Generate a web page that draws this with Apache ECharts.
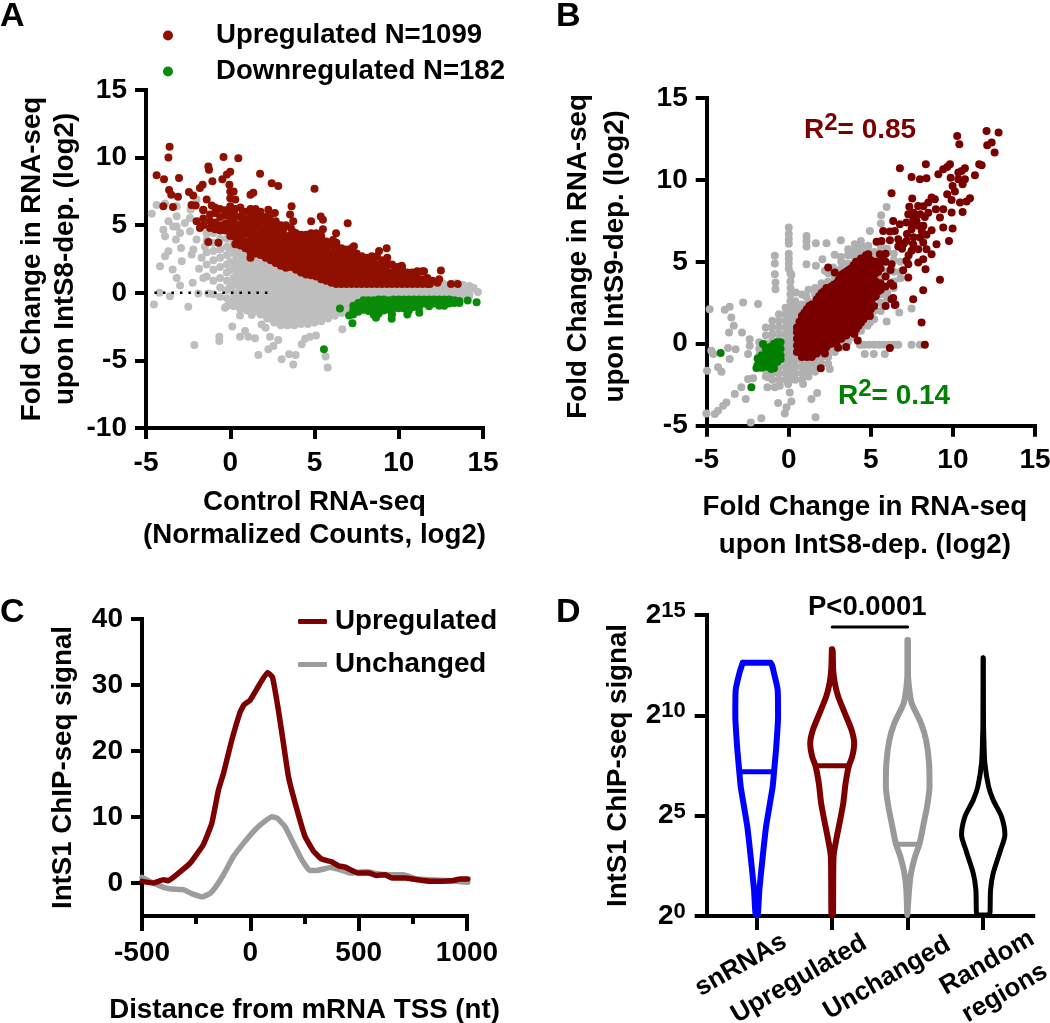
<!DOCTYPE html>
<html><head><meta charset="utf-8">
<style>html,body{margin:0;padding:0;background:#fff}#c{width:1050px;height:1023px}</style>
<script src="https://cdn.jsdelivr.net/npm/echarts@6/dist/echarts.min.js"></script>
</head><body><div id="c"></div>
<script>
// ---------- Panel A: [x, y] outliers, plus dense columns [x, [ys]]
const aUpOutliers=[[-3.6,10.8],[-3.67,10],[-4.37,8.7],[-3.93,8.4],[-3.04,8.5],[-3.63,7.6],[-3.5,7.25],[-3.1,7.1],[-3.97,6.4],[-3.4,6.35],[-2.45,7.45],[-2.2,7.2],[-1.8,7.75],[-1.64,8],[-2.3,6.5],[-2.05,6.45],[-1.3,9.35],[-1.26,9.1],[-1.06,8.25],[-1.4,6.9],[-1.1,6.45],[-1.6,6.15],[-2,5.3],[-1.8,4.8],[-1.3,3.76],[-0.7,3.7],[-0.4,10.05],[0.48,9.95],[0,8.95],[-0.2,8.75],[-0.47,8.4],[-0.05,8],[0,7.5],[0.2,7.5],[1.77,8.8],[2.46,8.1],[2.85,7.9],[5,7.7],[1.37,7.4],[1.2,7.25],[3.64,6.4],[3.55,5.8],[3.74,5.3],[2.26,6.15],[2.65,5.9],[5.37,5.65],[5.5,5.4],[4.8,5.3],[5.5,4.7],[6.97,5.15],[6.28,4.4],[6.1,3.9],[7.34,3.45],[8.83,3.1],[9.28,3.3],[9.32,2.6],[10.17,2],[11.5,1.6],[12.5,1.65],[12.3,0.75],[12.4,1.0],[13.1,0.66],[13.5,0.66],[11.85,0.66],[12.0,0.9]];
const aUpCols=[[-1.6,[5.0,5.5,6.1]],[-1.2,[4.8,5.3,5.8]],[-0.9,[4.7,5.2,5.9,6.3]],[-0.6,[4.6,5.0,5.6,6.2]],[-0.3,[4.6,5.1,5.7,6.1]],[0,[4.2,4.8,5.3,5.9,6.4,7]],[0.3,[3.6,4.1,4.7,5.1,5.7,6.2,6.9]],[0.6,[3.5,4.0,4.5,5.0,5.6,6.3]],[0.9,[3.3,3.8,4.4,4.9,5.4,6]],[1.2,[2.6,3.0,3.6,4.1,4.6,5.1,5.7,6.2]],[1.5,[2.9,3.4,3.9,4.3,4.9,5.4,5.9,6.2]],[1.8,[2.8,3.2,3.7,4.2,4.7,5.2,5.6,6]],[2.1,[2.6,3.0,3.5,4,4.5,5,5.6]],[2.4,[2.4,2.9,3.3,3.8,4.3,4.8,5.3,5.8]],[2.7,[2.2,2.6,3.1,3.6,4.1,4.6,5.3]],[3,[2,2.5,2.9,3.4,3.9,4.4,5]],[3.3,[1.85,2.3,2.7,3.2,3.7,4.2,5]],[3.6,[1.9,2.4,2.9,3.3,3.8,4.3,4.8]],[3.9,[1.7,2.1,2.6,3.1,3.6,4,4.4]],[4.2,[1.5,1.9,2.4,2.9,3.3,3.8,4.3]],[4.5,[1.35,1.8,2.2,2.7,3.2,3.7,4.3]],[4.8,[1.3,1.7,2.1,2.5,3,3.5,4,4.4]],[5.1,[1.2,1.6,2,2.5,2.9,3.4,3.9,4.4]],[5.4,[1,1.4,1.8,2.3,2.8,3.2,3.7,4.2]],[5.7,[0.9,1.3,1.8,2.2,2.7,3.2,3.8]],[6,[0.75,1.1,1.5,2,2.5,3,3.6]],[6.3,[0.66,1,1.4,1.9,2.4,2.8,3.2,3.7]],[6.6,[0.66,1.1,1.5,2,2.4,2.9,3.3]],[6.9,[0.66,1,1.4,1.8,2.3,2.8,3.2]],[7.2,[0.66,1,1.5,1.9,2.4,2.8,3.3]],[7.5,[0.66,1.1,1.5,2,2.5,2.9]],[7.8,[0.66,1,1.4,1.8,2.3,2.7]],[8.1,[0.66,1.1,1.5,2,2.6]],[8.4,[0.66,1,1.4,1.9,2.3,2.7]],[8.7,[0.66,1.1,1.5,2,2.7]],[9,[0.66,1,1.4,1.9,2.4]],[9.3,[0.66,1.1,1.6,2.1]],[9.6,[0.66,1,1.5,2.1]],[9.9,[0.66,1.1,1.5,1.9]],[10.2,[0.66,1,1.4,1.9]],[10.5,[0.66,1.1,1.5]],[10.8,[0.66,1,1.5]],[11.1,[0.66,1.1,1.6]],[11.4,[0.66,1,1.6]],[11.7,[0.66,1.1]],
 [0.15,[4.4,5,5.5,6.1]],[0.75,[3.8,4.3,4.8,5.3,5.9]],[1.35,[3.2,3.8,4.4,4.7,5.3,5.8]],[1.95,[3,3.5,3.9,4.5,4.9,5.4]],[2.55,[2.5,3,3.5,4,4.5,5]],[3.15,[2.2,2.7,3.2,3.7,4.2,4.7]],[3.75,[2.1,2.6,3.1,3.5,4,4.5]],[4.35,[1.7,2.1,2.6,3.1,3.5,4]],[4.95,[1.4,1.8,2.3,2.7,3.2,3.7,4.1]],[5.55,[1.2,1.6,2,2.5,3,3.5]],[6.15,[0.9,1.3,1.7,2.2,2.7,3.1]],[6.75,[0.85,1.3,1.7,2.2,2.6,3]],[7.35,[0.85,1.3,1.7,2.2,2.6]],[7.95,[0.85,1.25,1.6,2.1,2.5]],[8.55,[0.85,1.25,1.7,2.2]],[9.15,[0.85,1.25,1.7]],[9.75,[0.85,1.3,1.7]],[10.35,[0.85,1.25]],[10.95,[0.85,1.25]]];
const aDownOutliers=[[5.56,-4.18],[6.51,-1.16],[7.25,-2.26],[7.05,-1.67],[14.62,-0.69],[14.09,-0.57],[11.22,-1.48],[10.51,-1.6],[9.58,-1.92],[8.65,-1.85],[8.5,-1.6],[9.6,-1.6]];
const aDownCols=[[7.3,[-0.95,-1.3,-1.6]],[7.6,[-0.75,-1.1,-1.4]],[7.9,[-0.55,-0.9,-1.25]],[8.2,[-0.55,-0.95,-1.35]],[8.5,[-0.55,-0.9,-1.3]],[8.8,[-0.5,-0.85,-1.2,-1.55]],[9.1,[-0.5,-0.9,-1.3]],[9.4,[-0.55,-0.9,-1.25]],[9.7,[-0.5,-0.85,-1.15]],[10,[-0.5,-0.85,-1.15]],[10.3,[-0.5,-0.8,-1.15]],[10.6,[-0.5,-0.85,-1.3]],[10.9,[-0.5,-0.8,-1.05]],[11.2,[-0.5,-0.8,-1.1]],[11.5,[-0.5,-0.8]],[11.8,[-0.5,-0.85,-1]],[12.1,[-0.5,-0.8]],[12.4,[-0.5,-0.75,-0.95]],[12.7,[-0.5,-0.8,-0.95]],[13,[-0.5,-0.8]],[13.3,[-0.55,-0.75]],[13.6,[-0.6,-0.75]]];
const aGrayOutliers=[[-4.66,5.85],[-4.37,6.5],[-3.87,6.6],[-3.67,5.3],[-3.97,4.67],[-3.87,4.18],[-3.38,4.9],[-3.18,6.4],[-3.18,5.66],[-3.18,4.9],[-3.22,3.94],[-2.98,4.43],[-2.92,3.32],[-2.39,5.53],[-2.39,4.55],[-2.69,5.17],[-2,3.94],[-2.19,3.2],[-2.29,2.83],[-2.88,2.34],[-3.87,2.7],[-3.67,3.07],[-4.17,1.97],[-3.42,1.72],[-3.18,1.1],[-2.98,0.54],[-2.23,0.74],[-1.85,1.77],[-2.35,6.15],[-2,6.9],[-4.53,-0.86],[-3.58,-0.25],[-2.49,-1.03],[-2.13,-3.86],[-0.65,-3.25],[-0.65,-3.57],[0.12,-2.5],[0.58,-3.25],[0.88,-2.83],[1.07,-3.25],[1.47,-3.37],[1.67,-4.6],[2.26,-4.18],[2.56,-3.94],[2.36,-3.25],[2.85,-3.5],[3.05,-4.92],[3.49,-4.55],[3.88,-4.6],[3.74,-5.3],[4.24,-3.81],[4.44,-3.4],[4.73,-3.25],[5.09,-3.15],[5.66,-4.72],[5.78,-5.53],[6.65,-2.7],[1.86,-2.34],[2.1,-2.58],[-0.31,-1.1],[0.58,-1.67],[1.27,-1.65],[-1.9,-0.05],[-1.3,-0.05],[-1.7,2.6],[-1.5,3.4],[-1.6,1.1],[-4.2,0.0],[14.7,0.05],[14.45,0.35]];
const aGrayCols=[[-1.4,[1.2,2.1,3.0,3.9,4.4]],[-1,[-0.1,0.9,1.7,2.4,3.1,3.7,4.4]],[-0.6,[-0.3,0.4,1.1,1.9,2.6,3.2,4]],[-0.2,[-1,-0.4,0.2,0.9,1.5,2.1,2.8,3.4,4]],[0.2,[-1,-0.5,0,0.6,1.1,1.7,2.3,2.9,3.4,3.8]],[0.6,[-1.2,-0.7,-0.2,0.3,0.8,1.4,1.9,2.4,3,3.6]],[1,[-1.3,-0.8,-0.3,0.2,0.7,1.2,1.8,2.3,2.8,3.2]],[1.4,[-1.4,-0.9,-0.4,0.1,0.6,1.1,1.6,2.1,2.5,2.9]],[1.8,[-1.6,-1.1,-0.6,-0.1,0.4,0.9,1.4,1.9,2.4,3]],[2.2,[-1.9,-1.4,-0.9,-0.4,0.1,0.6,1.1,1.6,2.1,2.6]],[2.6,[-2.2,-1.7,-1.2,-0.7,-0.2,0.3,0.8,1.3,1.8,2.4]],[3,[-2.4,-1.9,-1.4,-0.9,-0.4,0.1,0.6,1.1,1.6,2.2]],[3.4,[-2.4,-1.8,-1.3,-0.8,-0.3,0.2,0.7,1.2,1.6,2]],[3.8,[-2.4,-1.9,-1.4,-0.9,-0.4,0.1,0.6,1.1,1.5,1.9]],[4.2,[-2.3,-1.8,-1.3,-0.8,-0.3,0.2,0.7,1.2,1.7]],[4.6,[-2.3,-1.9,-1.4,-0.9,-0.4,0.1,0.6,1,1.4]],[5,[-2.2,-1.7,-1.2,-0.7,-0.2,0.3,0.8,1.2]],[5.4,[-2.1,-1.6,-1.1,-0.6,-0.1,0.4,0.8,1.1]],[5.8,[-1.9,-1.4,-0.9,-0.4,0.1,0.5,0.8]],[6.2,[-1.7,-1.2,-0.7,-0.2,0.3,0.8]],[6.6,[-1.5,-1,-0.5,0,0.4,0.8]],[7,[-1.2,-0.7,-0.2,0.3,0.7]],[7.4,[-0.6,-0.2,0.2,0.7]],[7.8,[-0.4,0,0.4,0.7]],[8.2,[-0.2,0.2,0.6]],[8.6,[-0.4,0,0.4,0.7]],[9,[-0.2,0.2,0.6]],[9.4,[-0.4,0,0.4,0.7]],[9.8,[-0.2,0.2,0.6]],[10.2,[-0.4,0,0.4,0.7]],[10.6,[-0.2,0.2,0.6]],[11,[-0.4,0,0.4,0.7]],[11.4,[-0.2,0.2,0.6]],[11.8,[-0.4,0,0.4,0.7]],[12.2,[-0.2,0.2,0.6]],[12.6,[-0.4,0,0.4,0.7]],[13,[-0.2,0.2,0.6]],[13.4,[-0.3,0,0.4,0.7]],[13.8,[-0.2,0.2,0.6]],[14.2,[-0.2,0.1,0.5]],
 [0,[-0.7,0.5,1.7,2.3,3]],[0.4,[-0.9,-0.4,0.6,1.1,1.6,2.1,2.7,3.2]],[0.8,[-1,-0.5,0,0.5,1,1.5,2,2.5,3]],[1.2,[-1.1,-0.6,-0.1,0.4,0.9,1.4,1.9,2.4,2.8]],[1.6,[-1.3,-0.8,-0.3,0.2,0.7,1.2,1.7,2.2,2.7]],[2,[-1.6,-1.1,-0.6,-0.1,0.4,0.9,1.4,1.8,2.3]],[2.4,[-1.9,-1.4,-0.9,-0.4,0.1,0.6,1.1,1.6,2.1]],[2.8,[-2.1,-1.6,-1.1,-0.6,-0.1,0.4,0.9,1.4,1.9]],[3.2,[-2.1,-1.6,-1.1,-0.6,-0.1,0.4,0.9,1.4,1.8]],[3.6,[-2.1,-1.6,-1.1,-0.6,-0.1,0.4,0.9,1.3,1.7]],[4,[-2.1,-1.6,-1.1,-0.6,-0.1,0.4,0.9,1.4]],[4.4,[-2,-1.6,-1.1,-0.6,-0.1,0.4,0.9,1.3]],[4.8,[-2,-1.5,-1,-0.5,0,0.5,1]],[5.2,[-1.9,-1.4,-0.9,-0.4,0.1,0.6,1]],[5.6,[-1.7,-1.2,-0.7,-0.2,0.3,0.7]],[6,[-1.5,-1,-0.5,0,0.5]],[6.4,[-1.2,-0.7,-0.2,0.3,0.7]],[6.8,[-1,-0.5,0,0.5]],[7.2,[-0.5,0,0.5]],[8,[-0.1,0.35]],[8.4,[0.05,0.45]],[8.8,[-0.1,0.35]],[9.2,[0.05,0.45]],[9.6,[-0.1,0.35]],[10,[0.05,0.45]],[10.4,[-0.1,0.35]],[10.8,[0.05,0.45]],[11.2,[-0.1,0.35]],[11.6,[0.05,0.45]],[12,[-0.1,0.35]],[12.4,[0.05,0.45]],[12.8,[-0.1,0.35]],[13.2,[0.05,0.45]],[13.6,[-0.1,0.35]],[14,[0.05,0.45]]];
const aZeroLine=[[-4.5,0],[2.3,0]];

// ---------- Panel B
const bUpOutliers=[[12.05,12.99],[12.78,12.89],[10.26,12.68],[10.39,12.17],[12.36,12.28],[12.09,12.11],[12.54,11.67],[6.77,10.71],[8.35,10.96],[9.82,10.96],[9.65,10.79],[9.41,10.65],[9.11,10.35],[7.48,10.18],[7.99,10.04],[8.39,10.1],[10.73,10.71],[10.53,10.55],[10.33,10.45],[11.6,10.96],[11.75,10.89],[11.34,10.28],[9.86,10.14],[10.33,10.04],[10.73,10.04],[10.59,9.74],[9.98,9.63],[10.12,9.29],[9.65,9.13],[9.92,8.78],[11.04,8.88],[10.83,8.68],[10.43,8.62],[10.59,8.05],[6.26,9.19],[7.52,8.86],[7.34,8.37],[8.7,8.92],[8.9,8.82],[8.5,8.62],[7.88,8.41],[8.96,8.21],[9.41,8.21],[9.92,8.01],[8.29,7.74],[9.21,7.7],[7.28,7.91],[7.58,7.7],[7.78,7.5],[6.36,7.5],[6.77,7.3],[7.17,7.4],[9.41,7.09],[9.98,7.03],[5.75,6.89],[6.16,6.85],[6.46,6.89],[7.48,6.99],[8.7,6.93],[8.39,6.65],[7.99,6.48],[9.76,6.28],[5.35,6.22],[5.65,6.28],[6.16,6.32],[6.67,6.38],[7.17,6.28],[7.58,6.08],[9,6.08],[8.19,6.18],[6.67,5.93],[7.48,5.67],[7.89,5.77],[8.39,5.77],[8.7,5.47],[4.84,5.47],[5.55,5.47],[5.75,5.37],[7.17,5.06],[8.19,5.16],[7.89,4.96],[7.28,4.86],[6.26,4.86],[8.33,4.55],[6.97,4.49],[7.28,4.04],[9.21,3.9],[2.4,4.65],[2.8,4.35],[8.19,3.27],[7.58,2.72],[6.36,3.54],[6.26,2.72],[6.46,2.36],[8.09,1.3],[8.29,-0.06],[6.16,-0.26],[1.95,-1.5],[7.6,8.0],[8.0,7.9],[8.2,8.4],[7.9,7.2],[8.2,7.2],[7.5,7.3],[8.5,8.0],[8.1,6.9],[7.2,6.7],[7.6,6.5],[6.9,5.8],[7.3,5.4],[7.0,6.1],[3.5,-0.2],[4,0.6],[4.2,0.2],[4.94,1.7],[5.2,2.3],[6.36,2.8],[6.5,2.4],[5.9,2.3],[3.0,-0.25],[2.2,-0.6]];
const bUpCols=[[0.5,[-0.5,-0.1,0.3,0.7,1]],[0.8,[-0.8,-0.4,0,0.4,0.8,1.2,1.7]],[1.1,[-0.8,-0.4,0,0.4,0.9,1.3,1.7,2.1]],[1.4,[-0.8,-0.4,0,0.5,0.9,1.3,1.7,2.1,2.4]],[1.7,[-0.6,-0.2,0.2,0.6,1,1.4,1.9,2.3,2.7]],[2,[-0.4,0,0.4,0.8,1.2,1.6,2,2.5,3.1]],[2.3,[-0.2,0.2,0.6,1,1.4,1.8,2.2,2.6,3,3.4]],[2.6,[0,0.4,0.8,1.2,1.7,2.1,2.5,3,3.5]],[2.9,[0.1,0.5,0.9,1.3,1.8,2.2,2.6,3.1,3.7]],[3.2,[0.3,0.7,1.1,1.5,1.9,2.4,2.8,3.3,3.7,4.2]],[3.5,[0.5,0.9,1.3,1.7,2.1,2.5,3,3.5,3.9,4.4]],[3.8,[0.7,1.1,1.5,1.9,2.3,2.8,3.2,3.7,4.2,4.6]],[4.1,[0.9,1.3,1.8,2.2,2.6,3,3.4,3.9,4.4,5]],[4.4,[1.3,1.7,2.1,2.5,2.9,3.3,3.8,4.2,4.7,5.2]],[4.7,[1.7,2.1,2.5,2.9,3.4,3.8,4.3,4.8,5.4]],[5,[2.1,2.5,2.9,3.3,3.7,4.2,4.6,5.1]],[5.3,[2.9,3.4,3.8,4.3,4.7,5]],[5.6,[3.3,3.7,4.6,5]],[5.9,[3.5,4.1,5,5.5]],[6.2,[3.7,4.5]],
 [0.65,[-0.3,0.15,0.55,0.95,1.35]],[0.95,[-0.6,-0.2,0.2,0.6,1,1.5,1.9]],[1.25,[-0.6,-0.2,0.2,0.7,1.1,1.5,1.9,2.3]],[1.55,[-0.6,-0.2,0.3,0.7,1.1,1.5,2,2.4]],[1.85,[-0.4,0,0.4,0.8,1.2,1.7,2.1,2.6,2.9]],[2.15,[-0.2,0.2,0.6,1,1.4,1.8,2.3,2.7,3.2]],[2.45,[0,0.4,0.8,1.2,1.6,2,2.4,2.8,3.2]],[2.75,[0.2,0.6,1,1.4,1.9,2.3,2.7,3.2,3.6]],[3.05,[0.3,0.7,1.1,1.6,2,2.4,2.9,3.4,3.9]],[3.35,[0.5,0.9,1.3,1.7,2.2,2.6,3,3.5,4,4.3]],[3.65,[0.7,1.1,1.5,1.9,2.3,2.7,3.2,3.7,4.1,4.5]],[3.95,[0.9,1.3,1.7,2.1,2.5,3,3.4,3.9,4.4,4.8]],[4.25,[1.1,1.5,1.9,2.3,2.7,3.2,3.6,4.1,4.5,5]],[4.55,[1.5,1.9,2.3,2.7,3.1,3.6,4,4.5,5]],[4.85,[2.3,2.7,3.1,3.6,4,4.5,5]],[5.15,[2.8,3.2,3.6,4,4.4,4.9]],[5.45,[3.2,3.6,4.4,4.8]]];
const bDownOutliers=[[-4.15,-0.57],[-2.28,-2.66],[-1.57,-0.02],[-1.97,-1.48],[-1.06,-1.54]];
const bDownCols=[[-1.9,[-0.9,-1.3]],[-1.65,[-0.7,-1.1,-1.45]],[-1.4,[-0.3,-0.7,-1.1,-1.4]],[-1.15,[-0.2,-0.6,-1,-1.4]],[-0.9,[0,-0.4,-0.8,-1.2,-1.5]],[-0.7,[0.1,-0.3,-0.7,-1.1]],[-0.5,[0.1,-0.3,-0.7,-0.95]]];
const bGrayOutliers=[[0,7.1],[0,6.7],[0,6.4],[0,6.1],[0,5.5],[0,5.2],[0,4.9],[0,4.6],[-0.85,5.37],[-0.85,4.9],[-0.85,4.25],[-0.81,3.74],[-0.81,3.33],[1.08,6.58],[1.08,6.28],[1.08,5.93],[1.65,6.14],[2.3,6.14],[3.17,6.32],[4.94,6.89],[5.63,7.85],[5.96,8.35],[5.61,7.34],[1.08,4.86],[1.65,4.76],[2.05,5.16],[2.8,5.43],[3.17,5.3],[3.62,5.77],[4.02,6.08],[4.39,6.28],[4.84,5.98],[2.2,4.45],[2.7,4.65],[0.16,4.2],[-4.82,2.11],[-3.6,2.26],[-3.9,2.07],[-2.78,2.52],[-1.87,2.42],[-3.5,1.6],[-3.35,1.1],[-3.64,0.69],[-2.85,0.69],[-2.38,0.28],[-3.7,-0.26],[-3.24,-0.33],[-4.72,-0.43],[-4.6,-0.63],[-3.6,-0.93],[-4.31,-1.44],[-4.1,-1.7],[-4.98,-1.65],[-2.48,-0.63],[-2.38,-0.12],[-2.17,-2.11],[-2.48,-2.15],[-2.89,-2.66],[-3.29,-3.07],[-3.8,-3.58],[-4,-3.78],[-4.31,-4.09],[-4.51,-4.29],[-5.02,-4.25],[-2.62,-3.37],[-2.32,-4.8],[-1.67,-4.55],[-1.3,-2.66],[-0.85,-2.66],[-0.55,-2.56],[-0.04,-2.46],[0.06,-2.97],[-0.65,-3.62],[-0.14,-3.88],[-0.24,-4.25],[0.16,-3.52],[1.38,-3.37],[1.73,-3],[1.63,-4.49],[0.87,-2.46],[-1.26,-2.05],[2.5,-1.54],[2.4,-1.24],[4.33,-0.06],[4.6,-0.06],[4.9,-0.06],[5.2,-0.06],[5.5,-0.06],[5.8,-0.06],[6.1,-0.06],[6.4,-0.06],[6.67,-0.06],[7.48,-0.06],[7.99,-0.06],[4.63,-0.63],[5.18,-0.63],[5.85,-0.63],[5.96,1.36],[4.94,1.3],[6.73,1.91],[7.48,2.15],[0.43,3.13],[1.08,2.87],[1.69,2.93]];
const bGrayCols=[[-1.8,[-1.5,-1.1,-0.7,-0.3,0.1]],[-1.4,[-2,-1.6,-1.2,-0.8,-0.4,0,0.5,1]],[-1,[-2.2,-1.8,-1.4,-1,-0.6,-0.2,0.2,0.6,1,1.4]],[-0.6,[-2.2,-1.8,-1.4,-1,-0.6,-0.2,0.2,0.6,1,1.4,1.8]],[-0.2,[-2.2,-1.8,-1.4,-1,-0.6,-0.2,0.2,0.6,1,1.4,1.8,2.2]],[0.1,[-2.2,-1.8,-1.4,-1,-0.6,-0.2,0.2,0.6,1,1.4,1.8,2.2,2.6,3,3.4,3.8,4.3]],[0.4,[-2.2,-1.8,-1.4,-1,-0.6,-0.2,0.2,0.6,1,1.4,1.8,2.2,2.6]],[0.8,[-2.2,-1.8,-1.4,-1,-0.6,1.6,2,2.4,3]],[1.2,[-2,-1.6,-1.2,2.2,2.6,3.3]],[1.6,[-1.7,-1.3,-0.9,2.6,3,3.4]],[2,[-1.2,-0.8,3,3.3,3.7]],[2.4,[-0.8,-0.5,3.4,3.8,4.3]],[2.8,[-0.5,-0.2,3.7,4.1,4.5]],[3.2,[-0.2,0.1,4.2,4.6,5]],[3.6,[0.1,0.4,4.5,4.9,5.4]],[4,[0.4,0.8,4.9,5.3,5.7]],[4.4,[0.8,1.1,5.3,5.6,6]],[4.8,[1.1,1.5,5.5,5.9]],[5.2,[1.5,2,5.3,5.6]],[5.6,[2,2.5,3,4,5.3,5.7,6]],[6,[2.7,3.1,4.4,5.6,5.8]],[6.4,[3.4,3.8,4.4,5.1,5.5]],[6.8,[4,4.4,5]]];

// ---------- Panel C
const cUpX=[-500,-448,-401,-378,-340,-278,-217,-178,-147,-124,-86,-47,-29,-1,30,79,102,130,153,176,207,253,292,330,376,407,438,499,546,584,623,653,715,769,831,931,969,1004];
const cUpY=[0.25,0,0.5,0.35,1.26,3,5.8,9,14.1,16.6,21.6,25.9,27,27.7,29.4,31.9,31.2,26.1,21.1,16.1,12.1,7,4.8,3.6,3.2,2.6,2.4,1.5,1.5,1.15,1.25,0.75,0.75,0.5,0.25,0.35,0.6,0.6];
const cUnX=[-500,-448,-401,-363,-309,-271,-221,-186,-163,-124,-78,-32,14,53,99,125,161,199,238,273,307,369,415,461,538,584,646,707,769,831,931,1004];
const cUnY=[0.85,0,-0.65,-0.9,-1,-1.6,-2.1,-1.6,-0.75,1.25,4,6,7.8,9,10.05,9.8,8.5,6,3.5,1.9,1.9,2.35,2,1.5,1.75,1.4,1.25,1.25,0.6,0.5,0.35,0.1];

// ---------- Panel D: violins: exponent levels and half-widths (in category units)
const dCategories=['snRNAs','Upregulated','Unchanged','Random\nregions'];
const snLevels=[12.62,12.09,11.26,9.93,8.27,7.19,6.45,5.45,4.45,2.96,1.3,0.05];
const snHalf=[0.185,0.23,0.278,0.283,0.256,0.23,0.212,0.168,0.124,0.08,0.035,0.013];
const upLevels=[13.29,12.26,11.6,10.93,10.1,9.27,8.6,7.94,7.49,6.61,5.61,4.62,3.79,2.96,0.05];
const upHalf=[0.005,0.013,0.035,0.08,0.168,0.256,0.291,0.265,0.221,0.177,0.146,0.097,0.053,0.018,0.009];
const unLevels=[13.75,12.09,11.26,10.6,9.6,8.77,7.61,6.45,5.45,4.62,3.57,2.96,2.13,1.3,0.05];
const unHalf=[0.004,0.004,0.022,0.053,0.177,0.243,0.283,0.289,0.256,0.212,0.155,0.097,0.044,0.018,0.004];
const rnLevels=[12.87,9.6,8.77,7.61,6.45,5.78,4.95,4.04,3.29,2.13,1.3,0.05];
const rnHalf=[0.002,0.004,0.009,0.022,0.071,0.132,0.243,0.287,0.23,0.132,0.097,0.084];
const dMedians=[[0,7.19,0.23],[1,7.49,0.221],[2,3.57,0.155]];
const dPBar=[[1,14.4],[2,14.4]];

const FONT='"Liberation Sans",Arial,sans-serif';
const RED_A='#8F1000',GREEN_A='#0A8C0A',GRAY_A='#BEBEBE';
const RED_B='#7A0000',GREEN_B='#008000',GRAY_B='#B0B0B0';
const RED_C='#7D0000',GRAY_C='#9C9C9C',BLUE_D='#0000FF',GRAY_D='#999999';
const flat=c=>c.flatMap(([x,ys])=>ys.map(y=>[x,y]));
const zip=(a,b)=>a.map((v,i)=>[v,b[i]]);
function outline(c,lv,hw,closed){
  const l=lv.map((y,i)=>[c-hw[i],y]);
  const r=lv.map((y,i)=>[c+hw[i],y]).reverse();
  const p=l.concat(r);
  if(closed)p.push(p[0]);
  return p;
}
const tick={fontFamily:FONT,fontWeight:'bold',fontSize:28,color:'#000'};
const nameSt={fontFamily:FONT,fontWeight:'bold',fontSize:27.7,color:'#000',lineHeight:33};
const axLine={show:true,onZero:false,lineStyle:{color:'#000',width:4,cap:'square'}};
const axTick=l=>({show:true,length:l,lineStyle:{color:'#000',width:4},alignWithLabel:true});
function valAxis(gi,o){return Object.assign({type:'value',gridIndex:gi,splitLine:{show:false},axisLine:axLine,axisTick:axTick(11),axisLabel:Object.assign({},tick,{margin:19})},o);}
const scatter=(name,xi,data,size,color,z)=>({name,type:'scatter',xAxisIndex:xi,yAxisIndex:xi,data,symbolSize:size,itemStyle:{color,opacity:1},z,clip:false,silent:true});
const line=(name,xi,data,color,w,z,extra)=>Object.assign({name,type:'line',xAxisIndex:xi,yAxisIndex:xi,data,showSymbol:false,symbol:'none',clip:false,silent:true,z,lineStyle:{color,width:w,join:'round',cap:'round'},itemStyle:{color}},extra||{});
const gt=(text,x,y,size,color,extra)=>({type:'text',x,y,silent:true,style:Object.assign({text,fontFamily:FONT,fontWeight:'bold',fontSize:size,fill:color},extra||{})});
const catLabel=(text,x,y)=>({type:'text',x,y,rotation:Math.PI/6,silent:true,style:{text,fontFamily:FONT,fontWeight:'bold',fontSize:26,lineHeight:35,fill:'#000',align:'center',verticalAlign:'middle'}});

const option={
  animation:false,backgroundColor:'#fff',
  grid:[
    {left:146,top:90,width:337,height:338,outerBoundsMode:'none'},
    {left:706.7,top:98,width:328.3,height:327.7,outerBoundsMode:'none'},
    {left:142,top:619,width:325,height:297,outerBoundsMode:'none'},
    {left:706.7,top:615,width:326.5,height:301,outerBoundsMode:'none'}
  ],
  legend:[
    {show:true,left:158,top:16,orient:'vertical',itemWidth:10,itemHeight:10,itemGap:7,icon:'circle',selectedMode:false,
     data:['Upregulated N=1099','Downregulated N=182'],textStyle:{fontFamily:FONT,fontWeight:'bold',fontSize:27.6,color:'#000',padding:[0,0,0,38],lineHeight:29}},
    {show:true,left:293,top:602,orient:'vertical',itemWidth:29,itemHeight:5,itemGap:14,icon:'roundRect',selectedMode:false,
     data:['Upregulated','Unchanged'],textStyle:{fontFamily:FONT,fontWeight:'bold',fontSize:27.8,color:'#000',padding:[0,0,0,3],lineHeight:29}}
  ],
  xAxis:[
    valAxis(0,{min:-5,max:15,interval:5,name:'Control RNA-seq\n(Normalized Counts, log2)',nameLocation:'middle',nameGap:58,nameTextStyle:nameSt,axisLabel:Object.assign({},tick,{margin:21})}),
    valAxis(1,{min:-5,max:15,interval:5,name:'Fold Change in RNA-seq\nupon IntS8-dep. (log2)',nameLocation:'middle',nameGap:63,nameTextStyle:Object.assign({},nameSt,{padding:[0,12,0,0],lineHeight:38}),axisLabel:Object.assign({},tick,{margin:21})}),
    valAxis(2,{min:-500,max:1000,interval:500,name:'Distance from mRNA TSS (nt)',nameLocation:'middle',nameGap:78,nameTextStyle:nameSt,axisTick:axTick(15),minorTick:{show:true,splitNumber:2,length:8,lineStyle:{color:'#000',width:4}},axisLabel:Object.assign({},tick,{margin:23,formatter:v=>String(v)})}),
    valAxis(3,{min:-0.662,max:3.662,axisTick:Object.assign(axTick(14),{customValues:[0,1,2,3]}),axisLabel:{show:false}})
  ],
  yAxis:[
    valAxis(0,{min:-10,max:15,interval:5,name:'Fold Change in RNA-seq\nupon IntS8-dep. (log2)',nameLocation:'middle',nameGap:64,nameRotate:90,nameTextStyle:nameSt}),
    valAxis(1,{min:-5,max:15,interval:5,name:'Fold Change in RNA-seq\nupon IntS9-dep. (log2)',nameLocation:'middle',nameGap:73,nameRotate:90,nameTextStyle:Object.assign({},nameSt,{padding:[0,0,0,11],lineHeight:37})}),
    valAxis(2,{min:-5,max:40,axisTick:Object.assign(axTick(11),{customValues:[0,10,20,30,40]}),axisLabel:Object.assign({},tick,{margin:19,customValues:[0,10,20,30,40]}),name:'IntS1 ChIP-seq signal',nameLocation:'middle',nameGap:62,nameRotate:90,nameTextStyle:nameSt}),
    valAxis(3,{min:0,max:15,interval:5,axisTick:axTick(12),name:'IntS1 ChIP-seq signal',nameLocation:'middle',nameGap:72,nameRotate:90,nameTextStyle:nameSt,
      axisLabel:{margin:21,formatter:v=>'{b|2}{s|'+v+'}',rich:{b:{fontFamily:FONT,fontWeight:'bold',fontSize:28,color:'#000'},s:{fontFamily:FONT,fontSize:22,fontWeight:'bold',color:'#000',verticalAlign:'bottom',padding:[0,0,8,0]}}}})
  ],
  series:[
    scatter('Unchanged A',0,aGrayOutliers.concat(flat(aGrayCols)),8,GRAY_A,2),
    line('zeroA',0,aZeroLine,'#000',2.5,2.5,{lineStyle:{color:'#000',width:2.5,type:[2.5,6]}}),
    scatter('Upregulated N=1099',0,aUpOutliers.concat(flat(aUpCols)),8,RED_A,3),
    scatter('Downregulated N=182',0,aDownOutliers.concat(flat(aDownCols)),8,GREEN_A,4),
    scatter('Unchanged B',1,bGrayOutliers.concat(flat(bGrayCols)),8,GRAY_B,2),
    scatter('Upregulated B',1,bUpOutliers.concat(flat(bUpCols)),8,RED_B,3),
    scatter('Downregulated B',1,bDownOutliers.concat(flat(bDownCols)),8,GREEN_B,4),
    line('Unchanged',2,zip(cUnX,cUnY),GRAY_C,5.5,2,{smooth:0.1}),
    line('Upregulated',2,zip(cUpX,cUpY),RED_C,5.5,3,{smooth:0.1}),
    line('snRNAs',3,outline(0,snLevels,snHalf,true),BLUE_D,6,3,{smooth:0.15}),
    line('Upregulated D',3,outline(1,upLevels,upHalf,true),RED_C,6,3,{smooth:0.25}),
    line('Unchanged D',3,outline(2,unLevels,unHalf,true),GRAY_D,6,3,{smooth:0.25}),
    line('Random regions',3,outline(3,rnLevels,rnHalf,false),'#000',5,3,{smooth:0.25}),
    line('Median sn',3,[[dMedians[0][0]-dMedians[0][2],dMedians[0][1]],[dMedians[0][0]+dMedians[0][2],dMedians[0][1]]],BLUE_D,5,3),
    line('Median up',3,[[dMedians[1][0]-dMedians[1][2],dMedians[1][1]],[dMedians[1][0]+dMedians[1][2],dMedians[1][1]]],RED_C,5,3),
    line('Median un',3,[[dMedians[2][0]-dMedians[2][2],dMedians[2][1]],[dMedians[2][0]+dMedians[2][2],dMedians[2][1]]],GRAY_D,5,3),
    line('P bar',3,dPBar,'#000',3,3)
  ],
  graphic:[
    gt('A',0,0,34,'#000'),gt('B',556,0,34,'#000'),gt('C',0,596,34,'#000'),gt('D',556,596,34,'#000'),
    catLabel(dCategories[0],741,965),catLabel(dCategories[1],799,979),catLabel(dCategories[2],887,978),catLabel(dCategories[3],996,978),
    {type:'text',x:804,y:111,silent:true,style:{rich:{a:{fontFamily:FONT,fontWeight:'bold',fontSize:28,fill:RED_B},s:{fontFamily:FONT,fontWeight:'bold',fontSize:24,fill:RED_B,verticalAlign:'bottom',padding:[0,0,14,0]}},text:'{a|R}{s|2}{a|= 0.85}'}},
    {type:'text',x:838,y:377,silent:true,style:{rich:{a:{fontFamily:FONT,fontWeight:'bold',fontSize:28,fill:GREEN_B},s:{fontFamily:FONT,fontWeight:'bold',fontSize:24,fill:GREEN_B,verticalAlign:'bottom',padding:[0,0,14,0]}},text:'{a|R}{s|2}{a|= 0.14}'}},
    gt('P<0.0001',808,593,27.5,'#000')
  ]
};
echarts.init(document.getElementById('c'),null,{renderer:'canvas'}).setOption(option);
</script></body></html>
